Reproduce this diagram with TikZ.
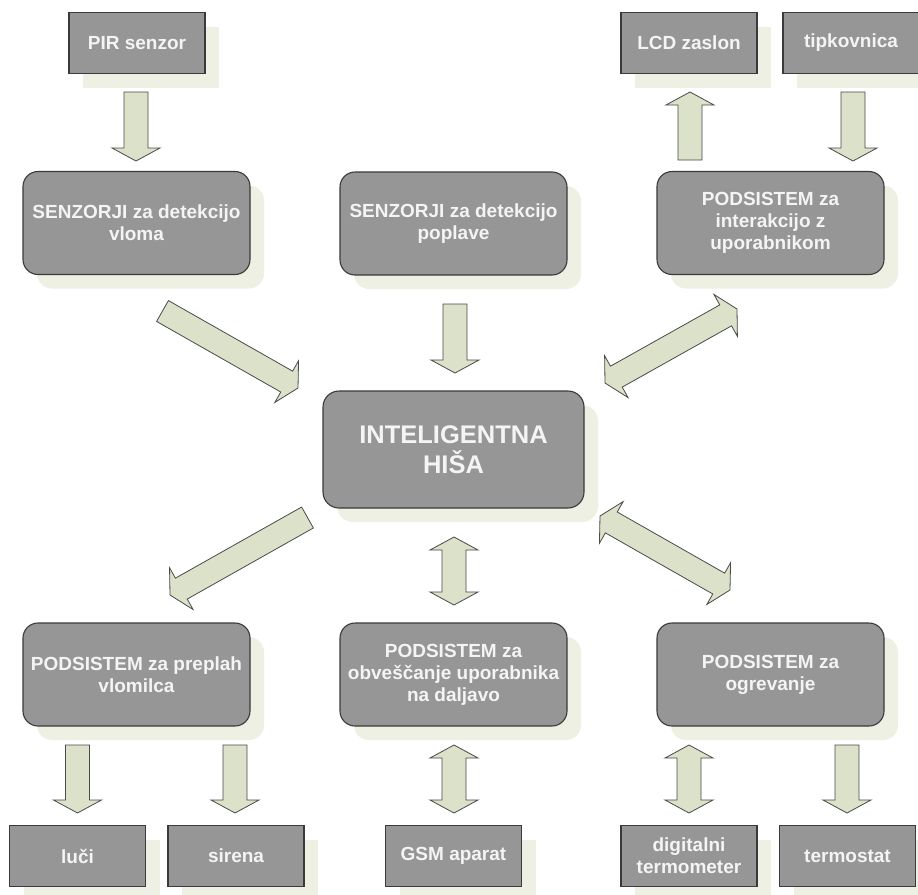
\documentclass[tikz,border=0pt]{standalone}
\usepackage{fontspec}
\setmainfont{Liberation Sans}
\usetikzlibrary{calc,shadows}

\definecolor{boxfill}{HTML}{969696}
\definecolor{boxline}{HTML}{3A3A3A}
\definecolor{boxtext}{HTML}{F4F4F4}
\definecolor{shadowc}{HTML}{EEF0E3}
\definecolor{arrowfill}{HTML}{DCE1CA}
\definecolor{arrowline}{HTML}{4A4A4A}

\tikzset{
  base/.style={draw=boxline, line width=1.1pt, fill=boxfill, text=boxtext,
    font=\bfseries\fontsize{19}{22}\selectfont, align=center, inner sep=0pt,
    drop shadow={shadow xshift=14pt, shadow yshift=-14pt, fill=shadowc, opacity=1}},
  smallbox/.style={base, rectangle, minimum width=136pt, minimum height=61pt},
  bigbox/.style={base, rectangle, rounded corners=15pt, minimum width=227pt, minimum height=103pt},
  hubbox/.style={base, rectangle, rounded corners=16pt, minimum width=261pt, minimum height=117pt,
    font=\bfseries\fontsize{25.5}{30}\selectfont},
  blockarrow/.style={draw=arrowline, line width=0.8pt, fill=arrowfill, line join=miter},
}

% one-headed block arrow from #1 to #2
\newcommand\singlearrow[2]{%
  \path coordinate (hb) at ($(#2)!13pt!(#1)$);
  \draw[blockarrow] ($(#1)!12pt!90:(#2)$) -- ($(hb)!12pt!90:(#2)$) -- ($(hb)!24pt!90:(#2)$)
    -- (#2) -- ($(hb)!24pt!-90:(#2)$) -- ($(hb)!12pt!-90:(#2)$) -- ($(#1)!12pt!-90:(#2)$) -- cycle;}
% two-headed block arrow between #1 and #2
\newcommand\doublearrow[2]{%
  \path coordinate (ha) at ($(#1)!13pt!(#2)$) coordinate (hb) at ($(#2)!13pt!(#1)$);
  \draw[blockarrow] (#1) -- ($(ha)!24pt!90:(#2)$) -- ($(ha)!12pt!90:(#2)$) -- ($(hb)!12pt!90:(#2)$)
    -- ($(hb)!24pt!90:(#2)$) -- (#2) -- ($(hb)!24pt!-90:(#2)$) -- ($(hb)!12pt!-90:(#2)$)
    -- ($(ha)!12pt!-90:(#2)$) -- ($(ha)!24pt!-90:(#2)$) -- cycle;}

\begin{document}
\begin{tikzpicture}[x=1pt,y=-1pt]
\fill[white] (0,0) rectangle (918,894);
\useasboundingbox (0,0) rectangle (918,894);

% top row of devices
\node[smallbox] (pir) at (137,43) {PIR senzor};
\node[smallbox] (lcd) at (689,43) {LCD zaslon};
\node[smallbox] (tip) at (851,43) {tipkovnica};

% sensor and user-interface subsystems
\node[bigbox] (vlom) at (136.5,223) {SENZORJI za detekcijo\\vloma};
\node[bigbox] (popl) at (453.5,223.5) {SENZORJI za detekcijo\\poplave};
\node[bigbox] (inter) at (770.5,223) {PODSISTEM za\\interakcijo z\\uporabnikom};

% central unit
\node[hubbox] (hisa) at (453.5,449.5) {INTELIGENTNA\\HIŠA};

% output subsystems
\node[bigbox] (prep) at (136.5,674.5) {PODSISTEM za preplah\\vlomilca};
\node[bigbox] (obv) at (453.5,674.5) {PODSISTEM za\\obveščanje uporabnika\\na daljavo};
\node[bigbox] (ogr) at (770.5,674.5) {PODSISTEM za\\ogrevanje};

% bottom row of devices
\node[smallbox] (luci) at (77.5,856) {luči};
\node[smallbox] (sir) at (236,856) {sirena};
\node[smallbox] (gsm) at (453.5,856) {GSM aparat};
\node[smallbox] (term) at (689,856) {digitalni\\termometer};
\node[smallbox] (tstat) at (847.5,856) {termostat};

% arrow end points
\coordinate (pir-a) at (136,92);   \coordinate (vlom-a) at (136,161);
\coordinate (lcd-a) at (690,92);   \coordinate (inter-a) at (690,160);
\coordinate (tip-a) at (853,92);   \coordinate (inter-b) at (853,161);
\coordinate (popl-a) at (455,304); \coordinate (hisa-a) at (455,373);
\coordinate (vlom-b) at (162.5,311); \coordinate (hisa-b) at (298,388);
\coordinate (hisa-c) at (605,383); \coordinate (inter-c) at (737,309);
\coordinate (hisa-d) at (307.5,517.5); \coordinate (prep-a) at (170,595);
\coordinate (hisa-e) at (600,516); \coordinate (ogr-a) at (730,590);
\coordinate (hisa-f) at (454,537); \coordinate (obv-a) at (454,605);
\coordinate (obv-b) at (454,745); \coordinate (gsm-a) at (454,813);
\coordinate (prep-b) at (77.5,745); \coordinate (luci-a) at (77.5,813);
\coordinate (prep-c) at (235,745); \coordinate (sir-a) at (235,813);
\coordinate (ogr-b) at (689,745); \coordinate (term-a) at (689,813);
\coordinate (ogr-c) at (847,745); \coordinate (tstat-a) at (847,813);

% connectors
\singlearrow{pir-a}{vlom-a}
\singlearrow{inter-a}{lcd-a}
\singlearrow{tip-a}{inter-b}
\singlearrow{popl-a}{hisa-a}
\singlearrow{vlom-b}{hisa-b}
\doublearrow{hisa-c}{inter-c}
\singlearrow{hisa-d}{prep-a}
\doublearrow{hisa-e}{ogr-a}
\doublearrow{hisa-f}{obv-a}
\doublearrow{obv-b}{gsm-a}
\singlearrow{prep-b}{luci-a}
\singlearrow{prep-c}{sir-a}
\doublearrow{ogr-b}{term-a}
\singlearrow{ogr-c}{tstat-a}
\end{tikzpicture}
\end{document}
